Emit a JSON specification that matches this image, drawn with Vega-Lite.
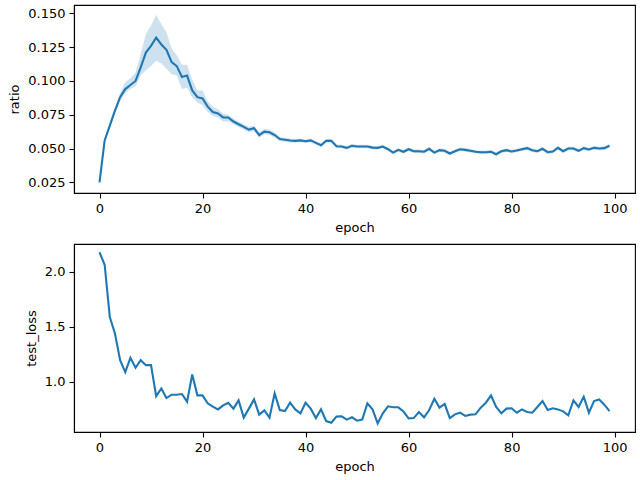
{
  "$schema": "https://vega.github.io/schema/vega-lite/v6.json",
  "padding": {"left": 8, "top": 4, "right": 2, "bottom": 5},
  "spacing": 8,
  "config": {
    "font": "DejaVu Sans",
    "view": {"stroke": "black", "strokeWidth": 1.1},
    "axis": {
      "grid": false,
      "domainColor": "black",
      "domainWidth": 1.1,
      "tickColor": "black",
      "tickWidth": 1.1,
      "tickSize": 5,
      "labelPadding": 4,
      "labelOverlap": false,
      "labelFont": "DejaVu Sans",
      "labelFontSize": 13,
      "labelColor": "black",
      "titleFont": "DejaVu Sans",
      "titleFontSize": 13,
      "titleFontWeight": "normal",
      "titleColor": "black",
      "titlePadding": 6
    }
  },
  "datasets": {
    "ratio": [
      {"epoch": 0, "ratio": 0.025, "lo": 0.0245, "hi": 0.0255},
      {"epoch": 1, "ratio": 0.056, "lo": 0.055, "hi": 0.057},
      {"epoch": 2, "ratio": 0.067, "lo": 0.065, "hi": 0.069},
      {"epoch": 3, "ratio": 0.078, "lo": 0.076, "hi": 0.080},
      {"epoch": 4, "ratio": 0.088, "lo": 0.085, "hi": 0.091},
      {"epoch": 5, "ratio": 0.094, "lo": 0.091, "hi": 0.099},
      {"epoch": 6, "ratio": 0.097, "lo": 0.094, "hi": 0.102},
      {"epoch": 7, "ratio": 0.100, "lo": 0.096, "hi": 0.106},
      {"epoch": 8, "ratio": 0.110, "lo": 0.104, "hi": 0.120},
      {"epoch": 9, "ratio": 0.121, "lo": 0.108, "hi": 0.135},
      {"epoch": 10, "ratio": 0.126, "lo": 0.111, "hi": 0.141},
      {"epoch": 11, "ratio": 0.132, "lo": 0.115, "hi": 0.149},
      {"epoch": 12, "ratio": 0.127, "lo": 0.113, "hi": 0.142},
      {"epoch": 13, "ratio": 0.123, "lo": 0.109, "hi": 0.136},
      {"epoch": 14, "ratio": 0.114, "lo": 0.105, "hi": 0.124},
      {"epoch": 15, "ratio": 0.111, "lo": 0.104, "hi": 0.119},
      {"epoch": 16, "ratio": 0.103, "lo": 0.094, "hi": 0.112},
      {"epoch": 17, "ratio": 0.104, "lo": 0.095, "hi": 0.112},
      {"epoch": 18, "ratio": 0.093, "lo": 0.088, "hi": 0.101},
      {"epoch": 19, "ratio": 0.088, "lo": 0.084, "hi": 0.093},
      {"epoch": 20, "ratio": 0.087, "lo": 0.082, "hi": 0.093},
      {"epoch": 21, "ratio": 0.081, "lo": 0.077, "hi": 0.085},
      {"epoch": 22, "ratio": 0.077, "lo": 0.074, "hi": 0.081},
      {"epoch": 23, "ratio": 0.076, "lo": 0.073, "hi": 0.079},
      {"epoch": 24, "ratio": 0.073, "lo": 0.070, "hi": 0.076},
      {"epoch": 25, "ratio": 0.073, "lo": 0.070, "hi": 0.075},
      {"epoch": 26, "ratio": 0.070, "lo": 0.068, "hi": 0.072},
      {"epoch": 27, "ratio": 0.068, "lo": 0.066, "hi": 0.070},
      {"epoch": 28, "ratio": 0.066, "lo": 0.064, "hi": 0.068},
      {"epoch": 29, "ratio": 0.064, "lo": 0.062, "hi": 0.066},
      {"epoch": 30, "ratio": 0.065, "lo": 0.063, "hi": 0.067},
      {"epoch": 31, "ratio": 0.060, "lo": 0.058, "hi": 0.062},
      {"epoch": 32, "ratio": 0.0625, "lo": 0.0605, "hi": 0.0645},
      {"epoch": 33, "ratio": 0.062, "lo": 0.060, "hi": 0.064},
      {"epoch": 34, "ratio": 0.060, "lo": 0.058, "hi": 0.062},
      {"epoch": 35, "ratio": 0.057, "lo": 0.0555, "hi": 0.0585},
      {"epoch": 36, "ratio": 0.0565, "lo": 0.055, "hi": 0.058},
      {"epoch": 37, "ratio": 0.056, "lo": 0.0545, "hi": 0.0575},
      {"epoch": 38, "ratio": 0.0557, "lo": 0.0544, "hi": 0.0570},
      {"epoch": 39, "ratio": 0.0560, "lo": 0.0547, "hi": 0.0573},
      {"epoch": 40, "ratio": 0.0554, "lo": 0.0541, "hi": 0.0567},
      {"epoch": 41, "ratio": 0.0560, "lo": 0.0547, "hi": 0.0573},
      {"epoch": 42, "ratio": 0.0542, "lo": 0.0529, "hi": 0.0555},
      {"epoch": 43, "ratio": 0.0524, "lo": 0.0511, "hi": 0.0537},
      {"epoch": 44, "ratio": 0.0557, "lo": 0.0544, "hi": 0.0570},
      {"epoch": 45, "ratio": 0.0557, "lo": 0.0544, "hi": 0.0570},
      {"epoch": 46, "ratio": 0.0517, "lo": 0.0504, "hi": 0.0530},
      {"epoch": 47, "ratio": 0.0515, "lo": 0.0502, "hi": 0.0528},
      {"epoch": 48, "ratio": 0.0505, "lo": 0.0492, "hi": 0.0518},
      {"epoch": 49, "ratio": 0.0520, "lo": 0.0507, "hi": 0.0533},
      {"epoch": 50, "ratio": 0.0515, "lo": 0.0502, "hi": 0.0528},
      {"epoch": 51, "ratio": 0.0515, "lo": 0.0502, "hi": 0.0528},
      {"epoch": 52, "ratio": 0.0515, "lo": 0.0502, "hi": 0.0528},
      {"epoch": 53, "ratio": 0.0507, "lo": 0.0494, "hi": 0.0520},
      {"epoch": 54, "ratio": 0.0505, "lo": 0.0492, "hi": 0.0518},
      {"epoch": 55, "ratio": 0.0515, "lo": 0.0502, "hi": 0.0528},
      {"epoch": 56, "ratio": 0.0495, "lo": 0.0482, "hi": 0.0508},
      {"epoch": 57, "ratio": 0.0470, "lo": 0.0457, "hi": 0.0483},
      {"epoch": 58, "ratio": 0.0490, "lo": 0.0477, "hi": 0.0503},
      {"epoch": 59, "ratio": 0.0476, "lo": 0.0463, "hi": 0.0489},
      {"epoch": 60, "ratio": 0.0495, "lo": 0.0482, "hi": 0.0508},
      {"epoch": 61, "ratio": 0.0480, "lo": 0.0467, "hi": 0.0493},
      {"epoch": 62, "ratio": 0.0480, "lo": 0.0467, "hi": 0.0493},
      {"epoch": 63, "ratio": 0.0476, "lo": 0.0463, "hi": 0.0489},
      {"epoch": 64, "ratio": 0.0498, "lo": 0.0485, "hi": 0.0511},
      {"epoch": 65, "ratio": 0.0470, "lo": 0.0457, "hi": 0.0483},
      {"epoch": 66, "ratio": 0.0488, "lo": 0.0475, "hi": 0.0501},
      {"epoch": 67, "ratio": 0.0483, "lo": 0.0470, "hi": 0.0496},
      {"epoch": 68, "ratio": 0.0463, "lo": 0.0450, "hi": 0.0476},
      {"epoch": 69, "ratio": 0.0480, "lo": 0.0467, "hi": 0.0493},
      {"epoch": 70, "ratio": 0.0495, "lo": 0.0482, "hi": 0.0508},
      {"epoch": 71, "ratio": 0.0490, "lo": 0.0477, "hi": 0.0503},
      {"epoch": 72, "ratio": 0.0483, "lo": 0.0470, "hi": 0.0496},
      {"epoch": 73, "ratio": 0.0476, "lo": 0.0463, "hi": 0.0489},
      {"epoch": 74, "ratio": 0.0473, "lo": 0.0460, "hi": 0.0486},
      {"epoch": 75, "ratio": 0.0473, "lo": 0.0460, "hi": 0.0486},
      {"epoch": 76, "ratio": 0.0476, "lo": 0.0463, "hi": 0.0489},
      {"epoch": 77, "ratio": 0.0458, "lo": 0.0445, "hi": 0.0471},
      {"epoch": 78, "ratio": 0.0480, "lo": 0.0467, "hi": 0.0493},
      {"epoch": 79, "ratio": 0.0488, "lo": 0.0475, "hi": 0.0501},
      {"epoch": 80, "ratio": 0.0478, "lo": 0.0465, "hi": 0.0491},
      {"epoch": 81, "ratio": 0.0485, "lo": 0.0472, "hi": 0.0498},
      {"epoch": 82, "ratio": 0.0495, "lo": 0.0482, "hi": 0.0508},
      {"epoch": 83, "ratio": 0.0503, "lo": 0.0490, "hi": 0.0516},
      {"epoch": 84, "ratio": 0.0488, "lo": 0.0475, "hi": 0.0501},
      {"epoch": 85, "ratio": 0.0480, "lo": 0.0467, "hi": 0.0493},
      {"epoch": 86, "ratio": 0.0498, "lo": 0.0485, "hi": 0.0511},
      {"epoch": 87, "ratio": 0.0473, "lo": 0.0460, "hi": 0.0486},
      {"epoch": 88, "ratio": 0.0478, "lo": 0.0465, "hi": 0.0491},
      {"epoch": 89, "ratio": 0.0505, "lo": 0.0492, "hi": 0.0518},
      {"epoch": 90, "ratio": 0.0480, "lo": 0.0467, "hi": 0.0493},
      {"epoch": 91, "ratio": 0.0500, "lo": 0.0487, "hi": 0.0513},
      {"epoch": 92, "ratio": 0.0500, "lo": 0.0487, "hi": 0.0513},
      {"epoch": 93, "ratio": 0.0483, "lo": 0.0470, "hi": 0.0496},
      {"epoch": 94, "ratio": 0.0503, "lo": 0.0490, "hi": 0.0516},
      {"epoch": 95, "ratio": 0.0493, "lo": 0.0480, "hi": 0.0506},
      {"epoch": 96, "ratio": 0.0505, "lo": 0.0492, "hi": 0.0518},
      {"epoch": 97, "ratio": 0.0500, "lo": 0.0487, "hi": 0.0513},
      {"epoch": 98, "ratio": 0.0503, "lo": 0.0490, "hi": 0.0516},
      {"epoch": 99, "ratio": 0.0520, "lo": 0.0507, "hi": 0.0533}
    ],
    "loss": [
      {"epoch": 0, "test_loss": 2.18}, {"epoch": 1, "test_loss": 2.066},
      {"epoch": 2, "test_loss": 1.59}, {"epoch": 3, "test_loss": 1.44},
      {"epoch": 4, "test_loss": 1.196}, {"epoch": 5, "test_loss": 1.087},
      {"epoch": 6, "test_loss": 1.218}, {"epoch": 7, "test_loss": 1.127},
      {"epoch": 8, "test_loss": 1.196}, {"epoch": 9, "test_loss": 1.151},
      {"epoch": 10, "test_loss": 1.151}, {"epoch": 11, "test_loss": 0.869},
      {"epoch": 12, "test_loss": 0.939}, {"epoch": 13, "test_loss": 0.851},
      {"epoch": 14, "test_loss": 0.882}, {"epoch": 15, "test_loss": 0.882},
      {"epoch": 16, "test_loss": 0.888}, {"epoch": 17, "test_loss": 0.818},
      {"epoch": 18, "test_loss": 1.066}, {"epoch": 19, "test_loss": 0.876},
      {"epoch": 20, "test_loss": 0.876}, {"epoch": 21, "test_loss": 0.803},
      {"epoch": 22, "test_loss": 0.773}, {"epoch": 23, "test_loss": 0.748},
      {"epoch": 24, "test_loss": 0.785}, {"epoch": 25, "test_loss": 0.809},
      {"epoch": 26, "test_loss": 0.755}, {"epoch": 27, "test_loss": 0.830},
      {"epoch": 28, "test_loss": 0.673}, {"epoch": 29, "test_loss": 0.755},
      {"epoch": 30, "test_loss": 0.839}, {"epoch": 31, "test_loss": 0.700},
      {"epoch": 32, "test_loss": 0.739}, {"epoch": 33, "test_loss": 0.673},
      {"epoch": 34, "test_loss": 0.894}, {"epoch": 35, "test_loss": 0.742},
      {"epoch": 36, "test_loss": 0.732}, {"epoch": 37, "test_loss": 0.809},
      {"epoch": 38, "test_loss": 0.748}, {"epoch": 39, "test_loss": 0.712},
      {"epoch": 40, "test_loss": 0.809}, {"epoch": 41, "test_loss": 0.755},
      {"epoch": 42, "test_loss": 0.669}, {"epoch": 43, "test_loss": 0.748},
      {"epoch": 44, "test_loss": 0.642}, {"epoch": 45, "test_loss": 0.627},
      {"epoch": 46, "test_loss": 0.682}, {"epoch": 47, "test_loss": 0.685},
      {"epoch": 48, "test_loss": 0.655}, {"epoch": 49, "test_loss": 0.676},
      {"epoch": 50, "test_loss": 0.645}, {"epoch": 51, "test_loss": 0.655},
      {"epoch": 52, "test_loss": 0.803}, {"epoch": 53, "test_loss": 0.748},
      {"epoch": 54, "test_loss": 0.621}, {"epoch": 55, "test_loss": 0.712},
      {"epoch": 56, "test_loss": 0.776}, {"epoch": 57, "test_loss": 0.767},
      {"epoch": 58, "test_loss": 0.767}, {"epoch": 59, "test_loss": 0.730},
      {"epoch": 60, "test_loss": 0.666}, {"epoch": 61, "test_loss": 0.669},
      {"epoch": 62, "test_loss": 0.724}, {"epoch": 63, "test_loss": 0.676},
      {"epoch": 64, "test_loss": 0.742}, {"epoch": 65, "test_loss": 0.845},
      {"epoch": 66, "test_loss": 0.764}, {"epoch": 67, "test_loss": 0.797},
      {"epoch": 68, "test_loss": 0.669}, {"epoch": 69, "test_loss": 0.703},
      {"epoch": 70, "test_loss": 0.718}, {"epoch": 71, "test_loss": 0.688},
      {"epoch": 72, "test_loss": 0.700}, {"epoch": 73, "test_loss": 0.703},
      {"epoch": 74, "test_loss": 0.764}, {"epoch": 75, "test_loss": 0.809},
      {"epoch": 76, "test_loss": 0.875}, {"epoch": 77, "test_loss": 0.770},
      {"epoch": 78, "test_loss": 0.712}, {"epoch": 79, "test_loss": 0.755},
      {"epoch": 80, "test_loss": 0.758}, {"epoch": 81, "test_loss": 0.718},
      {"epoch": 82, "test_loss": 0.748}, {"epoch": 83, "test_loss": 0.724},
      {"epoch": 84, "test_loss": 0.718}, {"epoch": 85, "test_loss": 0.770},
      {"epoch": 86, "test_loss": 0.824}, {"epoch": 87, "test_loss": 0.742},
      {"epoch": 88, "test_loss": 0.758}, {"epoch": 89, "test_loss": 0.748},
      {"epoch": 90, "test_loss": 0.730}, {"epoch": 91, "test_loss": 0.694},
      {"epoch": 92, "test_loss": 0.830}, {"epoch": 93, "test_loss": 0.770},
      {"epoch": 94, "test_loss": 0.864}, {"epoch": 95, "test_loss": 0.718},
      {"epoch": 96, "test_loss": 0.824}, {"epoch": 97, "test_loss": 0.839},
      {"epoch": 98, "test_loss": 0.791}, {"epoch": 99, "test_loss": 0.733}
    ]
  },
  "vconcat": [
    {
      "width": 561,
      "height": 188,
      "data": {"name": "ratio"},
      "encoding": {
        "x": {
          "field": "epoch",
          "type": "quantitative",
          "scale": {"domain": [-4.95, 103.95], "nice": false, "zero": false},
          "axis": {"values": [0, 20, 40, 60, 80, 100], "tickCount": 20, "title": "epoch"}
        }
      },
      "layer": [
        {
          "mark": {"type": "area", "color": "#1f77b4", "opacity": 0.22},
          "encoding": {
            "y": {
              "field": "lo",
              "type": "quantitative",
              "scale": {"domain": [0.0171, 0.1562], "nice": false, "zero": false},
              "axis": {
                "values": [0.025, 0.05, 0.075, 0.1, 0.125, 0.15],
                "tickCount": 20,
                "format": ".3f",
                "title": "ratio"
              }
            },
            "y2": {"field": "hi"}
          }
        },
        {
          "mark": {"type": "line", "color": "#1f77b4", "strokeWidth": 2.1},
          "encoding": {
            "y": {"field": "ratio", "type": "quantitative"}
          }
        }
      ]
    },
    {
      "width": 561,
      "height": 188,
      "data": {"name": "loss"},
      "mark": {"type": "line", "color": "#1f77b4", "strokeWidth": 2.1},
      "encoding": {
        "x": {
          "field": "epoch",
          "type": "quantitative",
          "scale": {"domain": [-4.95, 103.95], "nice": false, "zero": false},
          "axis": {"values": [0, 20, 40, 60, 80, 100], "tickCount": 20, "title": "epoch"}
        },
        "y": {
          "field": "test_loss",
          "type": "quantitative",
          "scale": {"domain": [0.542, 2.255], "nice": false, "zero": false},
          "axis": {"values": [1.0, 1.5, 2.0], "tickCount": 20, "format": ".1f", "title": "test_loss"}
        }
      }
    }
  ]
}
